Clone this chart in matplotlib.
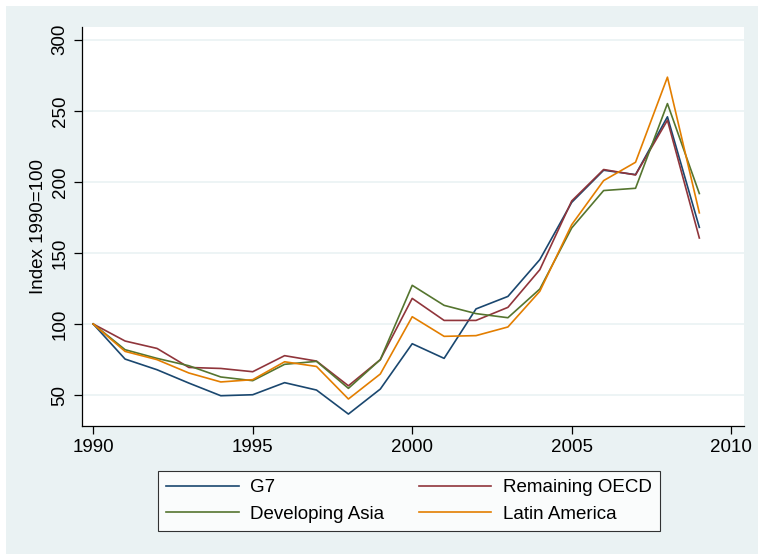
import matplotlib.pyplot as plt
from matplotlib.patches import Rectangle

plt.rcParams['font.family'] = ['Liberation Sans', 'DejaVu Sans']

years = list(range(1990, 2010))
g7 = [100, 75.3, 67.8, 58.4, 49.5, 50.2, 58.7, 53.5, 36.6, 54.2,
      86.1, 75.8, 110.6, 119.4, 145.3, 185.6, 208.2, 205.1, 245.8, 168.0]
remaining_oecd = [100, 88.0, 82.8, 69.4, 68.7, 66.4, 77.7, 73.9, 56.5, 74.9,
                  118.0, 102.5, 102.5, 111.7, 138.2, 186.6, 208.7, 204.9, 243.4, 160.5]
developing_asia = [100, 81.9, 75.8, 70.6, 62.7, 60.1, 71.6, 73.7, 54.7, 74.9,
                   127.2, 113.1, 107.3, 104.4, 124.6, 167.6, 193.9, 195.5, 255.1, 191.8]
latin_america = [100, 80.7, 74.9, 65.5, 59.2, 60.8, 73.4, 70.1, 47.2, 64.8,
                 105.1, 91.3, 91.8, 97.9, 123.0, 169.9, 200.9, 213.8, 273.7, 178.2]

series = [
    ("G7", g7, "#1a476f"),
    ("Remaining OECD", remaining_oecd, "#90353b"),
    ("Developing Asia", developing_asia, "#55752f"),
    ("Latin America", latin_america, "#e37e00"),
]

bg = "#eaf2f3"
fig = plt.figure(figsize=(7.59, 5.54), dpi=100, facecolor="white")
fig.patches.append(Rectangle((6 / 759, 0), 752 / 759, 548 / 554,
                             transform=fig.transFigure, facecolor=bg,
                             edgecolor="none", zorder=-10))

ax = fig.add_axes([81.7 / 759, 128 / 554, 662.3 / 759, 399 / 554])
ax.set_facecolor("white")
lines = {}
for name, vals, col in series:
    lines[name], = ax.plot(years, vals, color=col, linewidth=1.2, label=name)

ax.set_xlim(1989.64, 2010.4)
ax.set_ylim(28.2, 309)
ax.set_xticks([1990, 1995, 2000, 2005, 2010])
ax.set_yticks([50, 100, 150, 200, 250, 300])
ax.yaxis.grid(True, color=bg, linewidth=1.2)
ax.set_axisbelow(True)
for s in ["top", "right"]:
    ax.spines[s].set_visible(False)
for s in ["left", "bottom"]:
    ax.spines[s].set_linewidth(0.9)
ax.tick_params(labelsize=13.5, length=6, width=0.9, colors="black")
plt.setp(ax.get_yticklabels(), rotation=90, va="center")
ax.set_ylabel("Index 1990=100", fontsize=13.5, labelpad=3)

# row-wise order like the original: G7, Remaining OECD / Developing Asia, Latin America
order = ["G7", "Developing Asia", "Remaining OECD", "Latin America"]
leg = fig.legend([lines[n] for n in order], order,
                 loc="lower left", bbox_to_anchor=(158 / 759, 23 / 554, 502 / 759, 62 / 554),
                 mode="expand", ncol=2, fontsize=13.5, frameon=True, fancybox=False,
                 edgecolor="black", handlelength=3.85, handletextpad=0.6,
                 labelspacing=0.5, borderpad=0.45, borderaxespad=0)
leg.get_frame().set_linewidth(0.8)

fig.savefig("out.png", dpi=100, facecolor=fig.get_facecolor())
